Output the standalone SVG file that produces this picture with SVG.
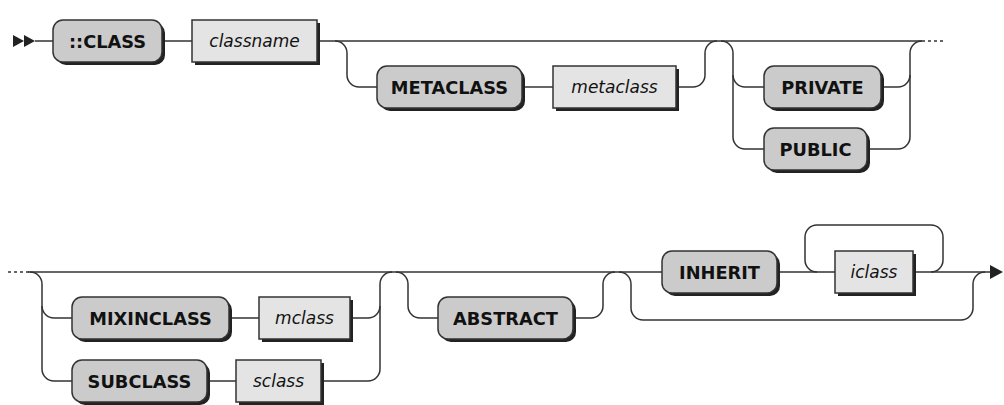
<svg xmlns="http://www.w3.org/2000/svg" width="1004" height="405" viewBox="0 0 1004 405">
<style>
.line{fill:none;stroke:#333;stroke-width:1.5}
.dot{fill:none;stroke:#333;stroke-width:1.5;stroke-dasharray:3 3}
.sh{fill:#222}
.term{fill:#cbcbcb;stroke:#333;stroke-width:1.5}
.nt{fill:#e4e4e4;stroke:#333;stroke-width:1.5}
.tt{font-family:"DejaVu Sans",Verdana,sans-serif;font-size:17.8px;font-weight:bold;fill:#111;text-anchor:middle}
.nn{font-family:"DejaVu Sans",Verdana,sans-serif;font-size:17px;font-style:italic;fill:#111;text-anchor:middle}
.arr{fill:#222}
</style>
<rect width="1004" height="405" fill="#fff"/>
<g id="connectors">
<polygon class="arr" points="13,35 24,41 13,47"/>
<polygon class="arr" points="24,35 35,41 24,47"/>
<path class="line" d="M35,41 H53 M162,41 H192 M317,41 H922"/>
<path class="dot" d="M922,41 H945"/>
<path class="line" d="M335,41 A12,12 0 0 1 347,53 V75 A12,12 0 0 0 359,87 H377"/>
<path class="line" d="M522,87 H553"/>
<path class="line" d="M676,87 H693 A12,12 0 0 0 705,75 V53 A12,12 0 0 1 717,41"/>
<path class="line" d="M721,41 A12,12 0 0 1 733,53 V137 A12,12 0 0 0 745,149 H764"/>
<path class="line" d="M733,75 A12,12 0 0 0 745,87 H764"/>
<path class="line" d="M881,87 H898 A12,12 0 0 0 910,75 V53 A12,12 0 0 1 922,41"/>
<path class="line" d="M867,149 H898 A12,12 0 0 0 910,137 V75"/>
<path class="dot" d="M8,272 H29"/>
<path class="line" d="M28,272 H662"/>
<path class="line" d="M30,272 A12,12 0 0 1 42,284 V369 A12,12 0 0 0 54,381 H72"/>
<path class="line" d="M42,306 A12,12 0 0 0 54,318 H72"/>
<path class="line" d="M229,318 H259 M207,381 H236"/>
<path class="line" d="M350,318 H368 A12,12 0 0 0 380,306 V284 A12,12 0 0 1 392,272"/>
<path class="line" d="M321,381 H368 A12,12 0 0 0 380,369 V306"/>
<path class="line" d="M396,272 A12,12 0 0 1 408,284 V306 A12,12 0 0 0 420,318 H438"/>
<path class="line" d="M573,318 H591 A12,12 0 0 0 603,306 V284 A12,12 0 0 1 615,272"/>
<path class="line" d="M619,272 A12,12 0 0 1 631,284 V308 A12,12 0 0 0 643,320 H961 A12,12 0 0 0 973,308 V284 A12,12 0 0 1 985,272"/>
<path class="line" d="M777,272 H835 M913,272 H991"/>
<path class="line" d="M931,272 A12,12 0 0 0 943,260 V237 A12,12 0 0 0 931,225 H817 A12,12 0 0 0 805,237 V260 A12,12 0 0 0 817,272"/>
<polygon class="arr" points="990,265 1003,272 990,279"/>
</g>
<g id="n-class"><rect class="sh" x="56" y="23" width="109" height="42" rx="10"/><rect class="term" x="53" y="20" width="109" height="42" rx="10"/><text class="tt" x="107.5" y="47.5">::CLASS</text></g>
<g id="n-classname"><rect class="sh" x="195" y="23" width="125" height="42"/><rect class="nt" x="192" y="20" width="125" height="42"/><text class="nn" x="254.5" y="47">classname</text></g>
<g id="n-METACLASS"><rect class="sh" x="380" y="69" width="145" height="42" rx="10"/><rect class="term" x="377" y="66" width="145" height="42" rx="10"/><text class="tt" x="449.5" y="93.5">METACLASS</text></g>
<g id="n-metaclass"><rect class="sh" x="556" y="69" width="123" height="42"/><rect class="nt" x="553" y="66" width="123" height="42"/><text class="nn" x="614.5" y="93">metaclass</text></g>
<g id="n-PRIVATE"><rect class="sh" x="767" y="69" width="117" height="42" rx="10"/><rect class="term" x="764" y="66" width="117" height="42" rx="10"/><text class="tt" x="822.5" y="93.5">PRIVATE</text></g>
<g id="n-PUBLIC"><rect class="sh" x="767" y="131" width="103" height="42" rx="10"/><rect class="term" x="764" y="128" width="103" height="42" rx="10"/><text class="tt" x="815.5" y="155.5">PUBLIC</text></g>
<g id="n-MIXINCLASS"><rect class="sh" x="75" y="300" width="157" height="42" rx="10"/><rect class="term" x="72" y="297" width="157" height="42" rx="10"/><text class="tt" x="150.5" y="324.5">MIXINCLASS</text></g>
<g id="n-mclass"><rect class="sh" x="262" y="300" width="91" height="42"/><rect class="nt" x="259" y="297" width="91" height="42"/><text class="nn" x="304.5" y="324">mclass</text></g>
<g id="n-SUBCLASS"><rect class="sh" x="75" y="363" width="135" height="42" rx="10"/><rect class="term" x="72" y="360" width="135" height="42" rx="10"/><text class="tt" x="139.5" y="387.5">SUBCLASS</text></g>
<g id="n-sclass"><rect class="sh" x="239" y="363" width="85" height="42"/><rect class="nt" x="236" y="360" width="85" height="42"/><text class="nn" x="278.5" y="387">sclass</text></g>
<g id="n-ABSTRACT"><rect class="sh" x="441" y="300" width="135" height="42" rx="10"/><rect class="term" x="438" y="297" width="135" height="42" rx="10"/><text class="tt" x="505.5" y="324.5">ABSTRACT</text></g>
<g id="n-INHERIT"><rect class="sh" x="665" y="254" width="115" height="42" rx="10"/><rect class="term" x="662" y="251" width="115" height="42" rx="10"/><text class="tt" x="719.5" y="278.5">INHERIT</text></g>
<g id="n-iclass"><rect class="sh" x="838" y="254" width="78" height="42"/><rect class="nt" x="835" y="251" width="78" height="42"/><text class="nn" x="874" y="278">iclass</text></g>
</svg>
